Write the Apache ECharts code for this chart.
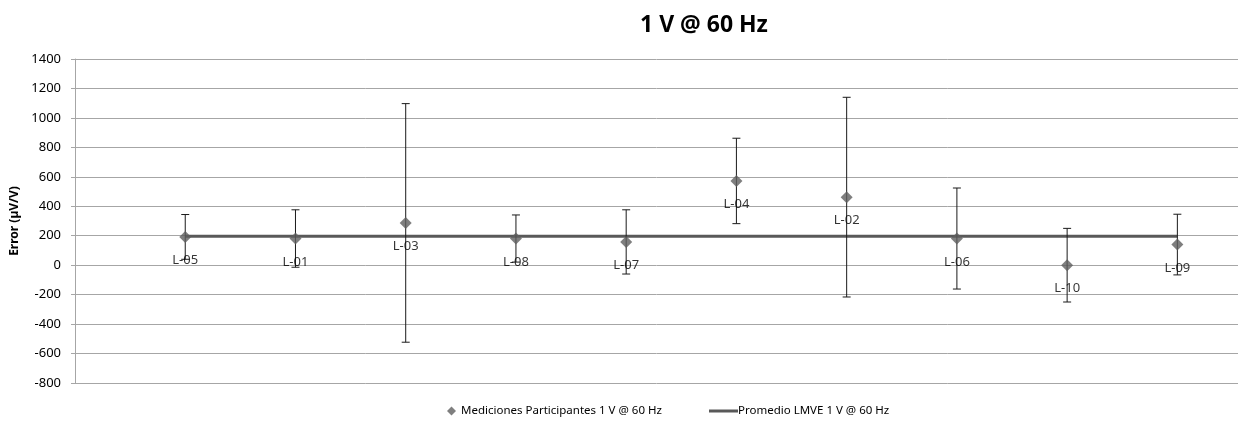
<!DOCTYPE html>
<html><head><meta charset="utf-8">
<script src="https://cdn.jsdelivr.net/npm/echarts@6/dist/echarts.min.js"></script>
<style>html,body{margin:0;padding:0;background:#fff}#c{width:1238px;height:426px}</style>
</head><body><div id="c"></div>
<script>
const labs = ['L-05','L-01','L-03','L-08','L-07','L-04','L-02','L-06','L-10','L-09'];
const xs = [1,2,3,4,5,6,7,8,9,10];
const vals = [192,181,287,181,158,572,462,181,0,140];
const errs = [152,195,810,160,218,290,678,343,250,206];
const meanVal = 196;
const yTicks = [-800,-600,-400,-200,0,200,400,600,800,1000,1200,1400];
const FONT = 'Noto Sans';

const scatterData = xs.map((x,i)=>[x, vals[i], labs[i]]);
const errData = xs.map((x,i)=>[x, vals[i]-errs[i], vals[i]+errs[i]]);
const meanData = [[xs[0], meanVal],[xs[xs.length-1], meanVal]];

const chart = echarts.init(document.getElementById('c'));
chart.setOption({
  animation:false,
  title:{text:'1 V @ 60 Hz', left:699, top:9, textAlign:'center',
    textStyle:{fontFamily:FONT, fontWeight:'bold', fontSize:23, color:'#000'}},
  grid:{left:75, right:0, top:59, height:324},
  xAxis:{type:'value', min:0, max:10.55, show:false},
  yAxis:{type:'value', min:yTicks[0], max:yTicks[yTicks.length-1], interval:200,
    name:'Error (µV/V)', nameLocation:'middle', nameGap:52, nameRotate:90,
    nameTextStyle:{fontFamily:FONT, fontWeight:'bold', fontSize:12, color:'#000'},
    axisLine:{show:true, lineStyle:{color:'#a6a6a6'}},
    axisTick:{show:true, length:4, lineStyle:{color:'#a6a6a6'}},
    axisLabel:{fontFamily:FONT, fontSize:13, color:'#000', margin:14, formatter:v=>String(v)},
    splitLine:{lineStyle:{color:'#a6a6a6', width:1}}},
  legend:[
    {left:442, top:400, itemWidth:9, itemHeight:9, itemGap:10,
      textStyle:{fontFamily:FONT, fontSize:11.5, color:'#000'},
      data:[{name:'Mediciones Participantes 1 V @ 60 Hz', icon:'diamond'}]},
    {left:704, top:400, itemWidth:29, itemHeight:3,
      textStyle:{fontFamily:FONT, fontSize:11.5, color:'#000', padding:[0,0,0,-5]},
      data:[{name:'Promedio LMVE 1 V @ 60 Hz', icon:'rect'}]}
  ],
  series:[
    {name:'Promedio LMVE 1 V @ 60 Hz', type:'line', data:meanData, symbol:'none',
      lineStyle:{color:'#595959', width:3}, itemStyle:{color:'#595959'}, z:2},
    {name:'err', type:'custom', data:errData, z:3,
      renderItem:function(params, api){
        const x = api.value(0);
        const lo = api.coord([x, api.value(1)]);
        const hi = api.coord([x, api.value(2)]);
        const w = 4;
        const st = {stroke:'#1a1a1a', lineWidth:1};
        return {type:'group', children:[
          {type:'line', shape:{x1:lo[0], y1:lo[1], x2:hi[0], y2:hi[1]}, style:st},
          {type:'line', shape:{x1:lo[0]-w, y1:lo[1], x2:lo[0]+w, y2:lo[1]}, style:st},
          {type:'line', shape:{x1:hi[0]-w, y1:hi[1], x2:hi[0]+w, y2:hi[1]}, style:st}
        ]};
      }},
    {name:'Mediciones Participantes 1 V @ 60 Hz', type:'scatter', data:scatterData,
      symbol:'diamond', symbolSize:12, z:4,
      itemStyle:{color:'#5f5f5f'},
      label:{show:true, position:'bottom', distance:11, formatter:p=>p.data[2],
        fontFamily:FONT, fontSize:13, color:'#000'}}
  ]
});
</script></body></html>
